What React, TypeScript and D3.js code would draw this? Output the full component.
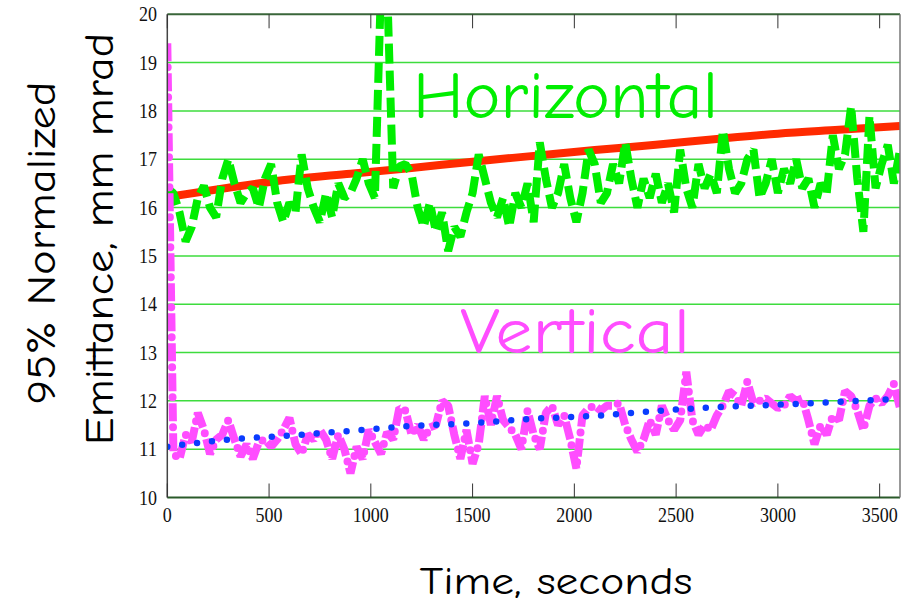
import React, { useRef, useEffect } from "react";
import * as d3 from "d3";

// sample step of the measured traces, seconds
const STEP = 30;

// horizontal emittance, every 30 s from 0 to 3600
const horizontal = [
  16.4, 16.3, 15.9, 15.3, 15.6, 16.2, 16.45, 16.0, 15.8, 16.6,
  17.0, 16.5, 16.1, 16.3, 16.4, 16.0, 16.6, 16.9, 16.1, 15.7,
  16.1, 15.9, 17.1, 16.4, 16.0, 15.7, 16.3, 15.8, 16.5, 16.2,
  16.3, 16.6, 17.0, 16.5, 16.2, 20.6, 20.6, 16.4, 16.85, 16.9,
  16.7, 16.0, 15.6, 16.1, 15.5, 15.9, 15.1, 15.6, 15.4, 15.9,
  16.3, 17.1, 16.6, 16.1, 15.8, 16.2, 15.6, 16.3, 16.0, 16.5,
  15.7, 17.35, 16.6, 16.0, 16.3, 16.9, 16.2, 15.7, 16.3, 17.2,
  16.9, 16.1, 16.3, 16.9, 16.5, 17.35, 16.6, 16.0, 16.6, 16.2,
  16.7, 16.1, 16.5, 15.9, 17.2, 16.4, 16.0, 16.9, 16.4, 16.7,
  16.3, 17.6, 16.8, 16.3, 16.5, 17.0, 17.2, 16.2, 16.5, 17.0,
  16.3, 16.8, 16.5, 17.0, 16.4, 16.6, 16.0, 16.5, 16.3, 17.5,
  16.8, 17.1, 18.1, 16.6, 15.5, 17.9, 16.4, 16.9, 17.3, 16.5,
  17.2,
];

// vertical emittance, same times
const vertical = [
  19.4, 10.9, 10.8, 11.3, 11.15, 11.75, 11.4, 10.9, 11.2, 11.3,
  11.6, 11.2, 10.85, 11.1, 10.8, 11.15, 11.2, 11.05, 11.2, 11.4,
  11.65, 11.1, 10.9, 11.3, 11.2, 11.4, 11.2, 10.8, 11.3, 11.0,
  10.5, 11.05, 10.8, 11.4, 11.15, 10.9, 11.35, 11.2, 11.85, 11.8,
  11.3, 11.5, 11.2, 11.45, 11.5, 12.0, 11.9, 11.3, 10.8, 11.4,
  10.7, 11.1, 12.1, 11.5, 12.1, 11.6, 11.45, 11.3, 11.0, 11.8,
  11.3, 11.0, 11.75, 11.9, 11.5, 11.7, 11.2, 10.6, 11.7, 11.85,
  11.9, 11.8, 11.9, 11.9, 11.95, 11.5, 11.2, 10.95, 11.2, 11.6,
  11.3, 11.9, 11.6, 11.4, 11.6, 12.6, 11.6, 11.3, 11.5, 11.4,
  11.7, 11.9, 12.2, 12.1, 11.9, 12.4, 11.95, 12.0, 12.05, 11.95,
  11.85, 11.9, 12.1, 12.0, 12.05, 11.6, 11.1, 11.5, 11.3, 11.7,
  11.6, 12.2, 12.1, 11.8, 11.4, 11.9, 12.05, 11.95, 12.1, 12.35,
  11.85,
];

// fitted trends, every 300 s
const FIT_STEP = 300;
const horizontalFit = [16.22, 16.41, 16.58, 16.7, 16.82, 16.95, 17.07, 17.19, 17.3, 17.42, 17.53, 17.61, 17.69];
const verticalFit = [11.05, 11.2, 11.28, 11.38, 11.48, 11.54, 11.63, 11.69, 11.79, 11.87, 11.92, 11.98, 12.04];

const xTicks = [0, 500, 1000, 1500, 2000, 2500, 3000, 3500];
const yTicks = [10, 11, 12, 13, 14, 15, 16, 17, 18, 19, 20];

const comic = "'Comic Sans MS', 'Comic Neue', 'DejaVu Sans', sans-serif";

const App = () => {
  const svgRef = useRef(null);

  useEffect(() => {
    const svg = d3.select(svgRef.current);
    svg.selectAll("*").remove();

    const W = 915;
    const H = 606;
    const left = 167.3;
    const right = 900;
    const top = 14.3;
    const bottom = 497.5;

    const x = d3.scaleLinear().domain([0, 3600]).range([left, right]);
    const y = d3.scaleLinear().domain([10, 20]).range([bottom, top]);

    svg.attr("width", W).attr("height", H);

    svg.append("defs")
      .append("clipPath")
      .attr("id", "plot-clip")
      .append("rect")
      .attr("x", left)
      .attr("y", top)
      .attr("width", right - left)
      .attr("height", bottom - top);

    // green grid lines
    svg.append("g")
      .selectAll("line")
      .data(yTicks.filter((d) => d > 10 && d < 20))
      .enter()
      .append("line")
      .attr("x1", left)
      .attr("x2", right)
      .attr("y1", (d) => y(d))
      .attr("y2", (d) => y(d))
      .attr("stroke", "#3ddc3d")
      .attr("stroke-width", 1.5);

    const g = svg.append("g").attr("clip-path", "url(#plot-clip)");

    const line = d3.line()
      .x((_, i) => x(i * STEP))
      .y((d) => y(d));

    const fitLine = d3.line()
      .x((_, i) => x(i * FIT_STEP))
      .y((d) => y(d))
      .curve(d3.curveMonotoneX);

    // red fit under the green trace
    g.append("path")
      .attr("d", fitLine(horizontalFit))
      .attr("fill", "none")
      .attr("stroke", "#ff2a00")
      .attr("stroke-width", 8);

    g.append("path")
      .attr("d", line(horizontal))
      .attr("fill", "none")
      .attr("stroke", "#00ee00")
      .attr("stroke-width", 8)
      .attr("stroke-linejoin", "bevel")
      .attr("stroke-dasharray", "20 7");

    // magenta dash-dot: dashes and dots drawn separately
    g.append("path")
      .attr("d", line(vertical))
      .attr("fill", "none")
      .attr("stroke", "#ff4dff")
      .attr("stroke-width", 8)
      .attr("stroke-linejoin", "bevel")
      .attr("stroke-dasharray", "18 12");
    g.append("path")
      .attr("d", line(vertical))
      .attr("fill", "none")
      .attr("stroke", "#ff4dff")
      .attr("stroke-width", 8)
      .attr("stroke-linecap", "round")
      .attr("stroke-dasharray", "0 30")
      .attr("stroke-dashoffset", -24);

    // blue dotted fit
    g.append("path")
      .attr("d", fitLine(verticalFit))
      .attr("fill", "none")
      .attr("stroke", "#0a3cff")
      .attr("stroke-width", 6.5)
      .attr("stroke-linecap", "round")
      .attr("stroke-dasharray", "0 15");

    // frame
    svg.append("line")
      .attr("x1", left).attr("x2", right).attr("y1", top).attr("y2", top)
      .attr("stroke", "#3a663a").attr("stroke-width", 2);
    svg.append("line")
      .attr("x1", left).attr("x2", right).attr("y1", bottom).attr("y2", bottom)
      .attr("stroke", "#2a5a2a").attr("stroke-width", 2);
    svg.append("line")
      .attr("x1", right).attr("x2", right).attr("y1", top).attr("y2", bottom)
      .attr("stroke", "#777").attr("stroke-width", 1.5);
    svg.append("line")
      .attr("x1", left).attr("x2", left).attr("y1", top).attr("y2", bottom)
      .attr("stroke", "#444").attr("stroke-width", 1.5);

    // inward ticks on top and bottom
    const ticks = svg.append("g").attr("stroke", "#333").attr("stroke-width", 1);
    xTicks.forEach((t) => {
      ticks.append("line")
        .attr("x1", x(t)).attr("x2", x(t))
        .attr("y1", bottom).attr("y2", bottom - 14);
      ticks.append("line")
        .attr("x1", x(t)).attr("x2", x(t))
        .attr("y1", top).attr("y2", top + 14);
    });

    // tick labels
    svg.append("g")
      .selectAll("text")
      .data(xTicks)
      .enter()
      .append("text")
      .attr("x", (d) => x(d))
      .attr("y", 522)
      .attr("text-anchor", "middle")
      .attr("font-family", "'Liberation Serif', 'Times New Roman', serif")
      .attr("font-size", 21)
      .attr("textLength", (d) => String(d).length * 9)
      .attr("lengthAdjust", "spacingAndGlyphs")
      .attr("fill", "#111")
      .text((d) => d);

    svg.append("g")
      .selectAll("text")
      .data(yTicks)
      .enter()
      .append("text")
      .attr("x", 157)
      .attr("y", (d) => y(d) + 7)
      .attr("text-anchor", "end")
      .attr("font-family", "'Liberation Serif', 'Times New Roman', serif")
      .attr("font-size", 21)
      .attr("textLength", 18)
      .attr("lengthAdjust", "spacingAndGlyphs")
      .attr("fill", "#111")
      .text((d) => d);

    // axis titles
    svg.append("text")
      .attr("x", 556)
      .attr("y", 594)
      .attr("text-anchor", "middle")
      .attr("font-family", comic)
      .attr("font-size", 38)
      .attr("textLength", 273)
      .attr("lengthAdjust", "spacingAndGlyphs")
      .attr("fill", "#000")
      .text("Time, seconds");

    svg.append("text")
      .attr("transform", "translate(55,243) rotate(-90)")
      .attr("text-anchor", "middle")
      .attr("font-family", comic)
      .attr("font-size", 40)
      .attr("textLength", 323)
      .attr("lengthAdjust", "spacingAndGlyphs")
      .attr("fill", "#000")
      .text("95% Normalized");

    svg.append("text")
      .attr("transform", "translate(113,239) rotate(-90)")
      .attr("text-anchor", "middle")
      .attr("font-family", comic)
      .attr("font-size", 40)
      .attr("textLength", 412)
      .attr("lengthAdjust", "spacingAndGlyphs")
      .attr("fill", "#000")
      .text("Emittance, mm mrad");

    // series labels
    svg.append("text")
      .attr("x", 413)
      .attr("y", 118)
      .attr("font-family", comic)
      .attr("font-size", 66)
      .attr("textLength", 305)
      .attr("lengthAdjust", "spacingAndGlyphs")
      .attr("fill", "#00ee00")
      .text("Horizontal");

    svg.append("text")
      .attr("x", 460)
      .attr("y", 353)
      .attr("font-family", comic)
      .attr("font-size", 64)
      .attr("textLength", 230)
      .attr("lengthAdjust", "spacingAndGlyphs")
      .attr("fill", "#ff4dff")
      .text("Vertical");
  }, []);

  return (
    <svg
      ref={svgRef}
      width={915}
      height={606}
      style={{ position: "absolute", left: 0, top: 0, background: "#fff" }}
    ></svg>
  );
};

export default App;
